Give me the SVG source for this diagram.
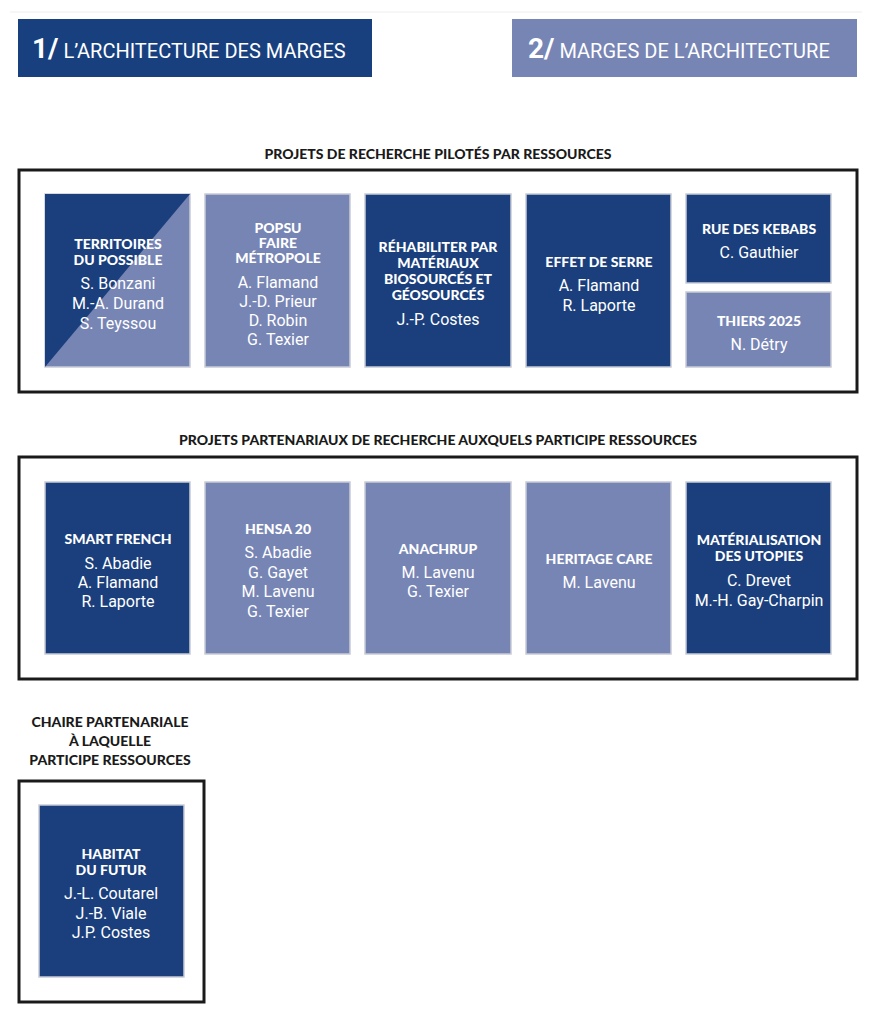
<svg xmlns="http://www.w3.org/2000/svg" width="875" height="1024" viewBox="0 0 875 1024">
<style>
.d{fill:#1b3f7d;stroke:#c8ccd6;stroke-width:1.5}
.l{fill:#7785b5;stroke:#c8ccd6;stroke-width:1.5}
.f{fill:none;stroke:#1a1a1a;stroke-width:3}
.t{font-family:Lato,"Liberation Sans",sans-serif;font-weight:900;font-size:14px;fill:#fff;text-anchor:middle}
.n{font-family:Roboto,"Liberation Sans",sans-serif;font-size:16px;fill:#fff;text-anchor:middle}
.h{font-family:Lato,"Liberation Sans",sans-serif;font-weight:900;font-size:14px;fill:#1a1a1a;text-anchor:middle}
.hd{font-family:Roboto,"Liberation Sans",sans-serif;font-size:20px;fill:#fff}
</style>
<line x1="10" y1="12" x2="862" y2="12" stroke="#eeeeee" stroke-width="1"/>
<g id="header1"><rect x="18" y="19" width="354" height="58" fill="#18407f"/><text class="hd" x="32" y="58"><tspan font-size="28" font-weight="bold">1/</tspan> L’ARCHITECTURE DES MARGES</text></g>
<g id="header2"><rect x="512" y="19" width="345" height="58" fill="#7785b5"/><text class="hd" x="528" y="58"><tspan font-size="28" font-weight="bold">2/</tspan> MARGES DE L’ARCHITECTURE</text></g>

<text class="h" x="438" y="159">PROJETS DE RECHERCHE PILOTÉS PAR RESSOURCES</text>
<rect class="f" x="19" y="170" width="838" height="222"/>
<g id="territoires">
<rect class="l" x="45" y="194" width="145" height="173"/>
<polygon points="45,194 190,194 45,367" fill="#1b3f7d"/>
<text class="t" x="118" y="249">TERRITOIRES</text><text class="t" x="118" y="265">DU POSSIBLE</text>
<text class="n" x="118" y="289">S. Bonzani</text><text class="n" x="118" y="309">M.-A. Durand</text><text class="n" x="118" y="329">S. Teyssou</text>
</g>
<g id="popsu"><rect class="l" x="205" y="194" width="145" height="173"/>
<text class="t" x="278" y="233">POPSU</text><text class="t" x="278" y="248">FAIRE</text><text class="t" x="278" y="263">MÉTROPOLE</text>
<text class="n" x="278" y="288">A. Flamand</text><text class="n" x="278" y="307">J.-D. Prieur</text><text class="n" x="278" y="326">D. Robin</text><text class="n" x="278" y="345">G. Texier</text></g>
<g id="rehabiliter"><rect class="d" x="365" y="194" width="146" height="173"/>
<text class="t" x="438" y="252">RÉHABILITER PAR</text><text class="t" x="438" y="268">MATÉRIAUX</text><text class="t" x="438" y="284">BIOSOURCÉS ET</text><text class="t" x="438" y="300">GÉOSOURCÉS</text>
<text class="n" x="438" y="325">J.-P. Costes</text></g>
<g id="effet"><rect class="d" x="526" y="194" width="145" height="173"/>
<text class="t" x="599" y="267">EFFET DE SERRE</text>
<text class="n" x="599" y="291">A. Flamand</text><text class="n" x="599" y="311">R. Laporte</text></g>
<g id="kebabs"><rect class="d" x="686" y="194" width="145" height="89"/>
<text class="t" x="759" y="234">RUE DES KEBABS</text><text class="n" x="759" y="258">C. Gauthier</text></g>
<g id="thiers"><rect class="l" x="686" y="292" width="145" height="75"/>
<text class="t" x="759" y="326">THIERS 2025</text><text class="n" x="759" y="350">N. Détry</text></g>

<text class="h" x="438" y="445">PROJETS PARTENARIAUX DE RECHERCHE AUXQUELS PARTICIPE RESSOURCES</text>
<rect class="f" x="19" y="457" width="838" height="222"/>
<g id="smart"><rect class="d" x="45" y="482" width="145" height="172"/>
<text class="t" x="118" y="544">SMART FRENCH</text>
<text class="n" x="118" y="569">S. Abadie</text><text class="n" x="118" y="588">A. Flamand</text><text class="n" x="118" y="607">R. Laporte</text></g>
<g id="hensa"><rect class="l" x="205" y="482" width="145" height="172"/>
<text class="t" x="278" y="534">HENSA 20</text>
<text class="n" x="278" y="558">S. Abadie</text><text class="n" x="278" y="578">G. Gayet</text><text class="n" x="278" y="597">M. Lavenu</text><text class="n" x="278" y="617">G. Texier</text></g>
<g id="anachrup"><rect class="l" x="365" y="482" width="146" height="172"/>
<text class="t" x="438" y="554">ANACHRUP</text>
<text class="n" x="438" y="578">M. Lavenu</text><text class="n" x="438" y="597">G. Texier</text></g>
<g id="heritage"><rect class="l" x="526" y="482" width="145" height="172"/>
<text class="t" x="599" y="564">HERITAGE CARE</text>
<text class="n" x="599" y="588">M. Lavenu</text></g>
<g id="materialisation"><rect class="d" x="686" y="482" width="145" height="172"/>
<text class="t" x="759" y="545">MATÉRIALISATION</text><text class="t" x="759" y="561">DES UTOPIES</text>
<text class="n" x="759" y="586">C. Drevet</text><text class="n" x="759" y="606">M.-H. Gay-Charpin</text></g>

<text class="h" x="110" y="727">CHAIRE PARTENARIALE</text>
<text class="h" x="110" y="746">À LAQUELLE</text>
<text class="h" x="110" y="765">PARTICIPE RESSOURCES</text>
<rect class="f" x="19" y="781" width="185" height="221"/>
<g id="habitat"><rect class="d" x="39" y="805" width="145" height="172"/>
<text class="t" x="111" y="859">HABITAT</text><text class="t" x="111" y="875">DU FUTUR</text>
<text class="n" x="111" y="899">J.-L. Coutarel</text><text class="n" x="111" y="919">J.-B. Viale</text><text class="n" x="111" y="938">J.P. Costes</text></g>
</svg>
